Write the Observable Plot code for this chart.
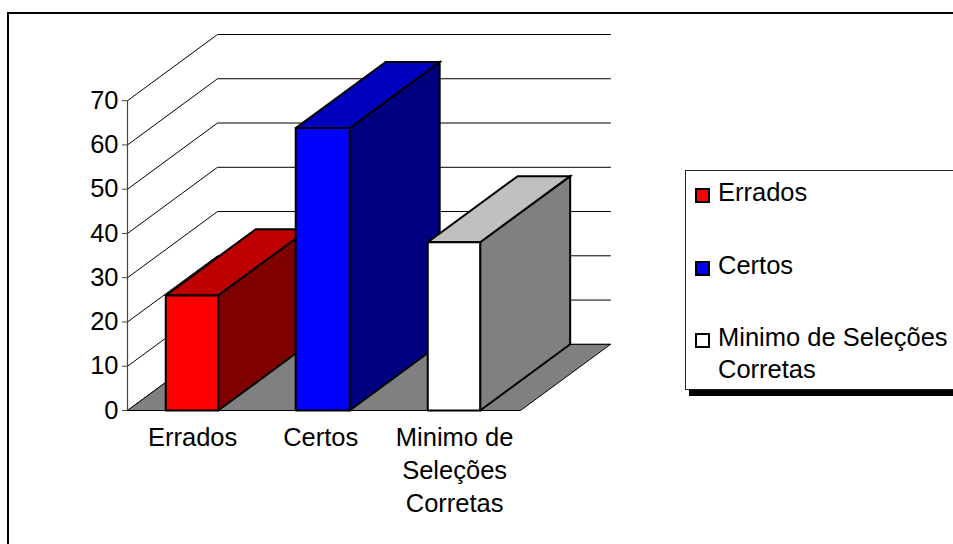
<!DOCTYPE html>
<html>
<head>
<meta charset="utf-8">
<script src="https://cdn.jsdelivr.net/npm/d3@7"></script>
<script src="https://cdn.jsdelivr.net/npm/@observablehq/plot@0.6"></script>
<style>
  html, body { margin: 0; padding: 0; background: #fff; }
  body { width: 953px; height: 544px; overflow: hidden; position: relative; font-family: "Liberation Sans", Arial, sans-serif; }
  #frame { position: absolute; left: 7px; top: 12px; right: -10px; bottom: -10px; border-left: 2px solid #000; border-top: 2px solid #000; }
  #chart { position: absolute; left: 0; top: 0; }
  #legend { position: absolute; left: 685px; top: 170px; width: 300px; height: 218px; background: #fff; border: 1px solid #222; box-sizing: content-box; box-shadow: 4px 6px 0 #000; font-size: 25.5px; line-height: 32px; color: #000; }
  .item { position: absolute; left: 32px; white-space: pre-line; }
  .swatch { position: absolute; left: 9px; width: 11px; height: 11px; border: 2px solid #000; }
</style>
</head>
<body>
<div id="frame"></div>
<div id="chart"></div>
<div id="legend"></div>
<script>
const categories = ["Errados", "Certos", "Minimo de\nSeleções\nCorretas"];
const legendLabels = ["Errados", "Certos", "Minimo de Seleções\nCorretas"];
const values = [26, 63.8, 38];
const barCenters = [0.492, 1.49, 2.492];
const barHalfWidths = [0.2, 0.206, 0.2];
const labelCenters = [0.497, 1.475, 2.497];
const frontColors = ["#ff0000", "#0000ff", "#ffffff"];
const topColors = ["#bf0000", "#0000bf", "#c0c0c0"];
const sideColors = ["#800000", "#000080", "#808080"];
const yTicks = [0, 10, 20, 30, 40, 50, 60, 70];

// Oblique projection: depth expressed in category units and value units.
const depthX = 0.687;
const depthY = 14.95;
const n = categories.length;

const closed = (pts) => [...pts, pts[0]].map(([x, y]) => ({x, y}));
const face = (pts, fill, strokeWidth = 2) =>
  Plot.line(closed(pts), {x: "x", y: "y", fill, stroke: "#000", strokeWidth, strokeLinejoin: "miter", strokeMiterlimit: 4});

const gridMarks = yTicks.map((v) =>
  Plot.line([{x: 0, y: v}, {x: depthX, y: v + depthY}, {x: n + depthX, y: v + depthY}],
    {x: "x", y: "y", stroke: "#000", strokeWidth: 1}));

const floor = face([[0, 0], [depthX, depthY], [n + depthX, depthY], [n, 0]], "#808080", 1);

const barMarks = values.flatMap((v, i) => {
  const x0 = barCenters[i] - barHalfWidths[i], x1 = barCenters[i] + barHalfWidths[i];
  return [
    face([[x1, 0], [x1 + depthX, depthY], [x1 + depthX, v + depthY], [x1, v]], sideColors[i]),
    face([[x0, v], [x0 + depthX, v + depthY], [x1 + depthX, v + depthY], [x1, v]], topColors[i]),
    face([[x0, 0], [x1, 0], [x1, v], [x0, v]], frontColors[i])
  ];
});

const plot = Plot.plot({
  width: 953,
  height: 544,
  marginLeft: 127,
  marginRight: 343,
  marginTop: 34,
  marginBottom: 134,
  style: {fontFamily: "'Liberation Sans', Arial, sans-serif", background: "transparent", color: "#000", overflow: "visible"},
  x: {type: "linear", domain: [0, n + depthX], axis: null},
  y: {type: "linear", domain: [0, 70 + depthY], axis: null},
  marks: [
    ...gridMarks,
    floor,
    ...barMarks,
    Plot.ruleX([0], {y1: 0, y2: 70, stroke: "#444", strokeWidth: 1.2}),
    Plot.ruleY([0], {x1: 0, x2: n, stroke: "#000", strokeWidth: 1.2}),
    Plot.axisY({ticks: yTicks, tickSize: 5, tickPadding: 4, fontSize: 25.5, label: null, tickFormat: (d) => String(d), stroke: "#444"}),
    Plot.text(categories, {
      x: (d, i) => labelCenters[i],
      y: () => 0,
      text: (d) => d,
      dy: 12,
      fontSize: 25.5,
      lineAnchor: "top",
      lineHeight: 1.294,
      textAnchor: "middle",
      fill: "#000"
    })
  ]
});
document.getElementById("chart").appendChild(plot);

const legend = document.getElementById("legend");
const itemTops = [5, 78, 150];
const swatchTops = [17, 90, 162];
legendLabels.forEach((label, i) => {
  const s = document.createElement("div");
  s.className = "swatch";
  s.style.top = swatchTops[i] + "px";
  s.style.background = frontColors[i];
  legend.appendChild(s);
  const t = document.createElement("div");
  t.className = "item";
  t.style.top = itemTops[i] + "px";
  t.textContent = label;
  legend.appendChild(t);
});
</script>
</body>
</html>
